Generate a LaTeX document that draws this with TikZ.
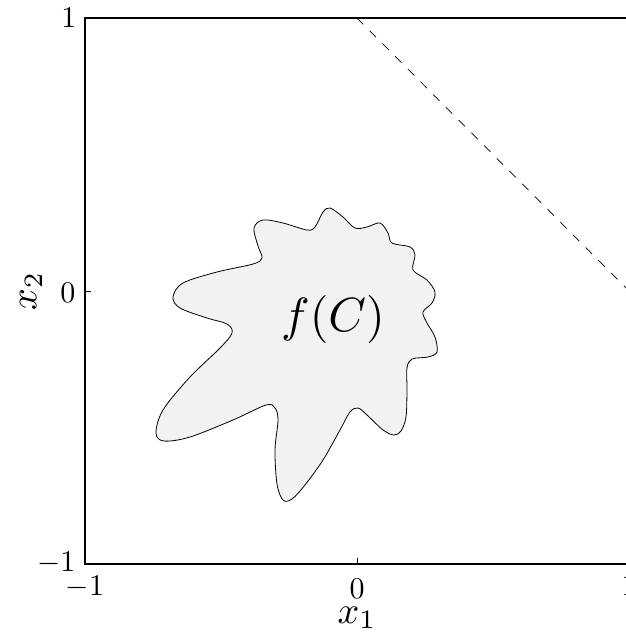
\documentclass[tikz,border=0pt]{standalone}
\begin{document}
\begin{tikzpicture}[x=1pt,y=-1pt,
  axisline/.style={line width=1.2pt},
  ticklab/.style={inner sep=0pt,scale=3,transform shape},
  axislab/.style={inner sep=0pt,scale=3.8,transform shape},
  fclab/.style={inner sep=0pt,scale=4.8,transform shape},
  blob/.style={draw=black,line width=0.8pt,fill=black!5},
  bound/.style={dashed,dash pattern=on 9pt off 9pt,line width=0.7pt}]
\useasboundingbox (0,0) rectangle (626,633);
\clip (0,0) rectangle (626,633);
% blob f(C)
\draw[blob] plot[smooth cycle,tension=0.55] coordinates {
 (330,208) (343,217) (355,228) (367,227) (380,223) (388,233) (392,243)
 (410,247) (415,255) (413,270) (427,280) (435,292) (432,303) (423,312)
 (427,323) (435,337) (437,352) (428,357) (412,359) (407,368) (407,390)
 (406,417) (401,431) (394,435) (383,430) (367,415) (358,408) (350,412)
 (340,430) (323,460) (305,485) (292,499) (283,500) (277,484) (275,450)
 (278,420) (275,408) (266,405) (233,420) (190,437) (164,441) (156,433)
 (163,410) (190,377) (220,348) (232,333) (227,324) (207,318) (180,308)
 (173,297) (183,283) (217,272) (253,264) (262,258) (258,246) (254,228)
 (263,220) (283,223) (307,230) (315,227) (323,212)};
\node[fclab,anchor=base] (fc) at (333,331) {$f(C)$};
% axes box
\coordinate (tl) at (85,18);
\coordinate (br) at (629,564);
\draw[axisline] (tl) rectangle (br);
% dashed boundary
\coordinate (d1) at (357,18);
\coordinate (d2) at (629,291);
\draw[bound] (d1) -- (d2);
% ticks
\coordinate (bt) at (357,564);
\coordinate (bt2) at (357,558);
\draw[line width=0.6pt] (bt) -- (bt2);
\coordinate (lt) at (85,291);
\coordinate (lt2) at (91,291);
\draw[line width=0.6pt] (lt) -- (lt2);
% tick labels x
\node[ticklab,anchor=base] (xm1) at (85,595) {$-1$};
\node[ticklab,anchor=base] (x0) at (357,598) {$0$};
\node[ticklab,anchor=base] (x1) at (629,595) {$1$};
% tick labels y
\node[ticklab,anchor=east] (ym1) at (76,563) {$-1$};
\node[ticklab,anchor=east] (y0) at (76,293) {$0$};
\node[ticklab,anchor=east] (y1) at (77,18) {$1$};
% axis labels
\node[axislab,anchor=base] (xl) at (357,623) {$x_1$};
\node[axislab,rotate=90] (yl) at (31,291) {$x_2$};
\end{tikzpicture}
\end{document}
